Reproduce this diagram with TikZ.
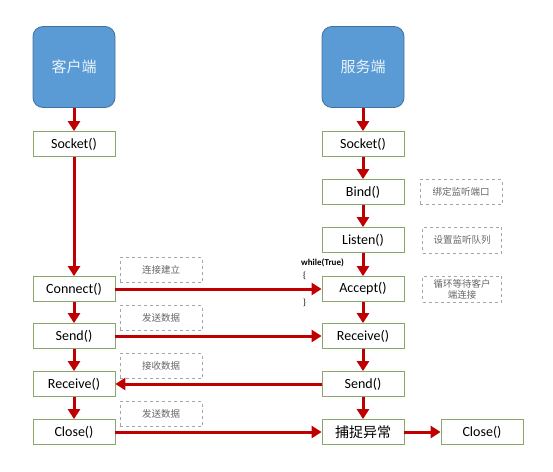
\documentclass[tikz,border=0pt]{standalone}
\usepackage{fontspec}
\setmainfont{Carlito}
\newfontfamily\cjk{Noto Sans CJK SC}
\usetikzlibrary{arrows.meta}
\definecolor{arrred}{HTML}{C00000}
\definecolor{boxgreen}{HTML}{8AA66A}
\definecolor{bluefill}{HTML}{5B9BD5}
\definecolor{blueline}{HTML}{41719C}
\tikzset{
  fn/.style={draw=boxgreen, line width=0.8pt, fill=white, minimum width=82pt, minimum height=25pt, inner sep=0pt, font=\fontsize{14}{16}\selectfont},
  endpt/.style={draw=blueline, line width=0.8pt, fill=bluefill, rounded corners=10pt, minimum width=82pt, minimum height=81pt, text=white!88!bluefill, font=\cjk\fontsize{15}{17}\selectfont},
  note/.style={draw=gray!70, dashed, line width=0.6pt, minimum width=82pt, minimum height=25pt, inner sep=1pt, text=gray!80!black, font=\cjk\fontsize{9.5}{11}\selectfont, align=center},
  conn/.style={draw=arrred, line width=3pt, -{Triangle[length=10pt,width=12pt]}},
  link/.style={draw=arrred, line width=3pt}
}
\begin{document}
\begin{tikzpicture}[x=1pt,y=-1pt]
\useasboundingbox (0,0) rectangle (553,471);
% client column
\node[endpt] (cl) at (74,67) {客户端};
\node[fn] (csock) at (74,144) {Socket()};
\node[fn] (cconn) at (74,289) {Connect()};
\node[fn] (csend) at (74,336) {Send()};
\node[fn] (crecv) at (74,384) {Receive()};
\node[fn] (cclose) at (74,432) {Close()};
% server column
\node[endpt] (sv) at (363,67) {服务端};
\node[fn] (ssock) at (363,144) {Socket()};
\node[fn] (sbind) at (363,192) {Bind()};
\node[fn] (slist) at (363,240) {Listen()};
\node[fn] (sacc) at (363,289) {Accept()};
\node[fn] (srecv) at (363,336) {Receive()};
\node[fn] (ssend) at (363,384) {Send()};
\node[fn, font=\cjk\fontsize{14}{16}\selectfont] (scatch) at (363,432) {捕捉异常};
\node[fn] (sclose) at (482,432) {Close()};
% notes
\node[note] (n1) at (161,270) {连接建立};
\node[note] (n2) at (161,318) {发送数据};
\node[note] (n3) at (161,366) {接收数据};
\node[note] (n4) at (161,414) {发送数据};
\node[note] (n5) at (461,192) {绑定监听端口};
\node[note, minimum width=79pt, minimum height=26pt] (n6) at (462,240) {设置监听队列};
\node[note, minimum width=79pt, minimum height=26pt, text width=66pt, inner sep=0pt] (n7) at (462,289) {循环等待客户\\端连接};
% while loop text
\node[font=\bfseries\fontsize{9}{10}\selectfont, anchor=west, inner sep=0pt] (wt) at (301,263) {while(True)};
\node[font=\fontsize{9}{10}\selectfont, anchor=west, inner sep=0pt] (ob) at (303,276) {\{};
\node[font=\fontsize{9}{10}\selectfont, anchor=west, inner sep=0pt] (cb) at (303,303) {\}};
% vertical arrows client
\draw[conn] (cl) -- (csock);
\draw[conn] (csock) -- (cconn);
\draw[conn] (cconn) -- (csend);
\draw[conn] (csend) -- (crecv);
\draw[conn] (crecv) -- (cclose);
% vertical arrows server
\draw[conn] (sv) -- (ssock);
\draw[conn] (ssock) -- (sbind);
\draw[conn] (sbind) -- (slist);
\draw[conn] (slist) -- (sacc);
\draw[conn] (sacc) -- (srecv);
\draw[conn] (srecv) -- (ssend);
\draw[conn] (ssend) -- (scatch);
% horizontal
\draw[conn] (cconn) -- (sacc);
\draw[conn] (csend) -- (srecv);
\draw[conn] (ssend) -- (crecv);
\draw[conn] (cclose) -- (scatch);
\draw[conn] (scatch) -- (sclose);
\end{tikzpicture}
\end{document}
